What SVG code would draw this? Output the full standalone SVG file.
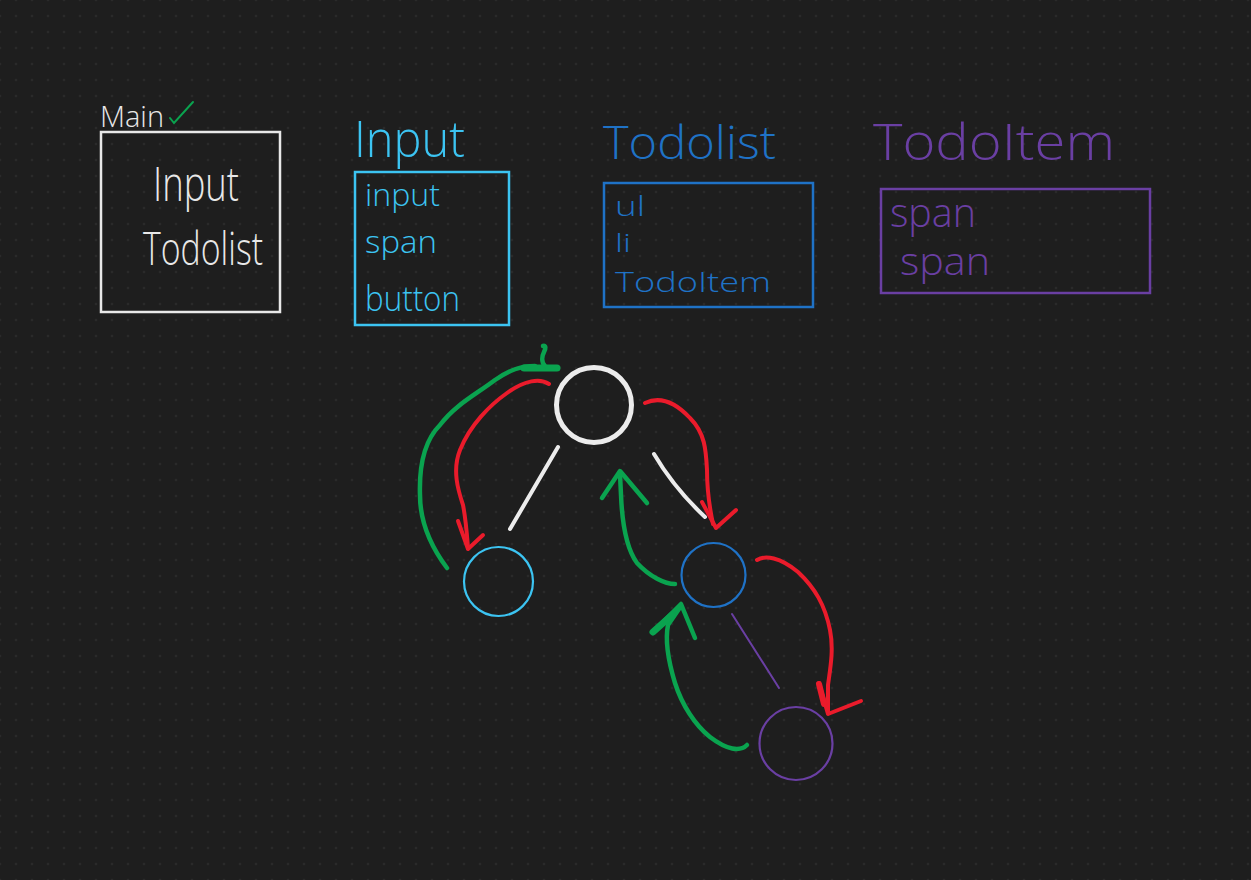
<svg xmlns="http://www.w3.org/2000/svg" width="1251" height="880" viewBox="0 0 1251 880">
<defs>
<pattern id="dots" x="0" y="0" width="16" height="16" patternUnits="userSpaceOnUse">
<circle cx="16" cy="16" r="1.3" fill="#2a2a2a"/><circle cx="0" cy="0" r="1.3" fill="#2a2a2a"/><circle cx="16" cy="0" r="1.3" fill="#2a2a2a"/><circle cx="0" cy="16" r="1.3" fill="#2a2a2a"/>
</pattern>
<style>
text{font-family:"Open Sans","Liberation Sans",sans-serif;font-weight:300}
.w{fill:#e8e8e8}.c{fill:#3cc4f2}.b{fill:#1f72c6}.p{fill:#6a3fa3}
.box{fill:none;stroke-width:2.5}
.g{fill:none;stroke:#0aa34f;stroke-width:4.5;stroke-linecap:round;stroke-linejoin:round}
.r{fill:none;stroke:#ea1b2b;stroke-width:4;stroke-linecap:round;stroke-linejoin:round}
</style>
</defs>
<rect width="1251" height="880" fill="#1e1e1e"/>
<rect width="1251" height="880" fill="url(#dots)"/>

<g id="main">
<text x="100" y="127" class="w" font-size="30" textLength="64" lengthAdjust="spacingAndGlyphs">Main</text>
<path d="M170,118 L174,123 L193,102" fill="none" stroke="#0aa34f" stroke-width="2" stroke-linecap="round"/>
<rect x="101" y="132" width="179" height="180" class="box" stroke="#e8e8e8" stroke-width="2"/>
<text x="153" y="201" class="w" font-size="47" textLength="86" lengthAdjust="spacingAndGlyphs">Input</text>
<text x="143" y="265" class="w" font-size="46" textLength="120" lengthAdjust="spacingAndGlyphs">Todolist</text>
</g>

<g id="input">
<text x="354" y="157" class="c" font-size="50" textLength="111" lengthAdjust="spacingAndGlyphs">Input</text>
<rect x="355" y="172" width="154" height="153" class="box" stroke="#3cc4f2"/>
<text x="365" y="206" class="c" font-size="32" textLength="75" lengthAdjust="spacingAndGlyphs">input</text>
<text x="365" y="253" class="c" font-size="32" textLength="72" lengthAdjust="spacingAndGlyphs">span</text>
<text x="365" y="311" class="c" font-size="34" textLength="95" lengthAdjust="spacingAndGlyphs">button</text>
</g>

<g id="todolist">
<text x="603" y="159" class="b" font-size="46" textLength="173" lengthAdjust="spacingAndGlyphs">Todolist</text>
<rect x="604" y="183" width="209" height="124" class="box" stroke="#1f72c6"/>
<text x="615" y="216" class="b" font-size="28" textLength="30" lengthAdjust="spacingAndGlyphs">ul</text>
<text x="615" y="252" class="b" font-size="26" textLength="16" lengthAdjust="spacingAndGlyphs">li</text>
<text x="615" y="292" class="b" font-size="28" textLength="156" lengthAdjust="spacingAndGlyphs">TodoItem</text>
</g>

<g id="todoitem">
<text x="873" y="160" class="p" font-size="50" textLength="242" lengthAdjust="spacingAndGlyphs">TodoItem</text>
<rect x="881" y="189" width="269" height="104" class="box" stroke="#6a3fa3"/>
<text x="890" y="227" class="p" font-size="40" textLength="86" lengthAdjust="spacingAndGlyphs">span</text>
<text x="900" y="275" class="p" font-size="38" textLength="90" lengthAdjust="spacingAndGlyphs">span</text>
</g>

<g id="node-main"><circle cx="594" cy="405" r="37.5" fill="none" stroke="#ececec" stroke-width="5"/></g>
<g id="node-input"><circle cx="498.5" cy="581.5" r="34.5" fill="none" stroke="#3cc4f2" stroke-width="2.2"/></g>
<g id="node-todolist"><circle cx="713.5" cy="575" r="32" fill="none" stroke="#1f72c6" stroke-width="2.2"/></g>
<g id="node-todoitem"><circle cx="796" cy="743.5" r="36.5" fill="none" stroke="#6a3fa3" stroke-width="2.2"/></g>

<g id="connectors">
<path d="M558,447 L510,529" stroke="#ececec" stroke-width="4" stroke-linecap="round"/>
<path d="M654,454 Q674,488 705,517" fill="none" stroke="#ececec" stroke-width="4" stroke-linecap="round"/>
<path d="M732,614 L779,688" stroke="#6a3fa3" stroke-width="2" stroke-linecap="round"/>

<path class="g" d="M447,568 C432,548 420,525 420,495 C419,465 425,440 440,425 C455,405 475,395 495,380 C510,370 520,366 535,366"/>
<path d="M524,368 L557,368" stroke="#0aa34f" stroke-width="7" stroke-linecap="round"/>
<path class="g" stroke-width="3.5" d="M545,366 C541,362 542,356 544,352 C546,348 546,345 543,346"/>

<path class="r" d="M549,384 C540,378 525,380 507,393 C490,405 470,425 460,450 C452,470 458,490 463,505 C466,520 467,535 468,548"/>
<path class="r" d="M458,521 L468,549 L483,535"/>

<path class="g" d="M675,584 C665,584 650,577 637,563 C626,548 622,520 621,495 L620,474"/>
<path class="g" d="M602,498 L620,471 L647,503"/>

<path class="r" d="M645,403 C660,396 675,402 690,418 C705,433 706,450 707,470 C707,490 709,505 713,524"/>
<path class="r" d="M702,502 L716,528 L736,510"/>

<path class="g" d="M747,745 C740,752 727,750 710,737 C695,725 682,705 675,683 C668,660 665,640 668,625 L681,606"/>
<path class="g" d="M653,632 L681,604 L695,638"/>
<path d="M653,632 L672,615" stroke="#0aa34f" stroke-width="7" stroke-linecap="round"/>

<path class="r" d="M757,560 C765,555 780,557 798,572 C815,588 825,605 830,630 C834,650 830,670 828,685 L828,713"/>
<path class="r" d="M819,683 L828,714 L861,701"/>
<path d="M819,684 L824,704" stroke="#ea1b2b" stroke-width="6" stroke-linecap="round"/>
</g>
</svg>
